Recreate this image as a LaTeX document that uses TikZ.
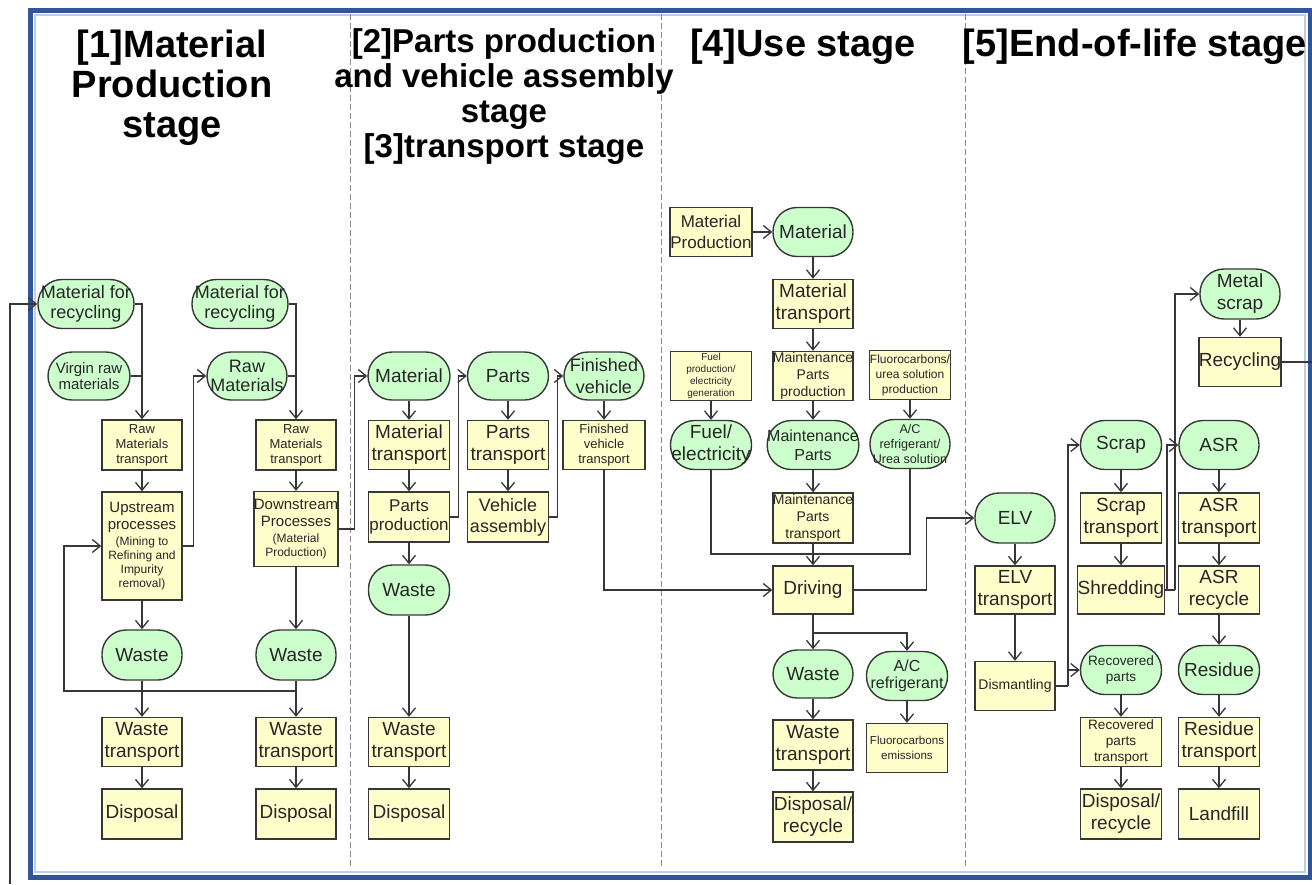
\documentclass[tikz,border=0pt]{standalone}
\usepackage{fontspec}
\setmainfont{Liberation Sans}
\usetikzlibrary{arrows.meta}
\definecolor{gfill}{RGB}{204,255,204}
\definecolor{yfill}{RGB}{255,255,204}
\definecolor{edgec}{RGB}{55,55,55}
\definecolor{frameblue}{RGB}{50,85,150}
\definecolor{framelight}{RGB}{190,205,230}
\definecolor{dashgray}{RGB}{140,140,140}
\newcommand\fsz[2]{\fontsize{#1}{#2}\selectfont}
\begin{document}
\begin{tikzpicture}[x=0.5pt,y=-0.5pt,
 base/.style={draw=edgec, line width=0.7pt, text=black!85, align=center, inner sep=0pt,
   minimum width=40pt, minimum height=24.5pt, font=\fsz{9.5}{11}},
 gn/.style={base, fill=gfill, rounded corners=12pt},
 yb/.style={base, fill=yfill},
 arr/.style={draw=edgec, line width=0.65pt, -{Straight Barb[length=4pt,width=6.5pt]}},
 ln/.style={draw=edgec, line width=0.65pt},
 title/.style={font=\bfseries\fsz{19}{20}, align=center, inner sep=0pt, text=black},
 small/.style={font=\fsz{6.5}{7.5}},
]
\useasboundingbox (0,0) rectangle (1312,884);
% frame
\draw[framelight, line width=1pt] (35,15) rectangle (1305,872);
\draw[frameblue, line width=2.5pt] (30,10) rectangle (1310,877);
% dashed separators
\foreach \xx in {350,661,965}
  \draw[dashgray, line width=0.5pt, dash pattern=on 3pt off 1.5pt] (\xx,14) -- (\xx,868);
% titles
\node[title] (t1) at (172,88) {[1]Material\\Production\\stage};
\node[title, font=\bfseries\fsz{16.5}{17.5}] (t2) at (504,97) {[2]Parts production\\and vehicle assembly\\stage\\{}[3]transport stage};
\node[title] (t4) at (803,47) {[4]Use stage};
\node[title] (t5) at (1135,47) {[5]End-of-life stage};

% ---------- column 1
\node[gn, minimum width=48pt, font=\fsz{9}{10}] (A) at (86,304) {Material for\\recycling};
\node[gn, minimum width=41pt, minimum height=24pt, font=\fsz{7.5}{8}] (B) at (89,376) {Virgin raw\\materials};
\node[gn, minimum width=48pt, font=\fsz{9}{10}] (C) at (240,304) {Material for\\recycling};
\node[gn, minimum height=24pt, font=\fsz{9}{9.5}] (D) at (247,376) {Raw\\Materials};
\node[yb, minimum height=25pt, small] (E) at (142,445) {Raw\\Materials\\transport};
\node[yb, minimum height=25pt, small] (F) at (296,445) {Raw\\Materials\\transport};
\node[yb, minimum height=54pt, font=\fsz{6}{7}] (G) at (142,546) {{\fsz{7.5}{8.5}Upstream}\\[1.5pt]{\fsz{7.5}{8.5}processes}\\[1pt](Mining to\\Refining and\\Impurity\\removal)};
\node[yb, minimum height=37.5pt, font=\fsz{6}{7}] (H) at (296,529) {{\fsz{7.5}{8.5}Downstream}\\[1.5pt]{\fsz{7.5}{8.5}Processes}\\[1pt](Material\\Production)};
\node[gn, minimum height=25pt] (I) at (142,655) {Waste};
\node[gn, minimum height=25pt] (J) at (296,655) {Waste};
\node[yb] (K) at (142,742) {Waste\\transport};
\node[yb] (L) at (296,742) {Waste\\transport};
\node[yb, minimum height=25pt] (M) at (142,814) {Disposal};
\node[yb, minimum height=25pt] (N) at (296,814) {Disposal};

% ---------- column 2
\node[gn, minimum width=41pt, minimum height=24pt] (Mat2) at (409,376) {Material};
\node[gn, minimum width=40.5pt, minimum height=24pt] (Parts) at (508,376) {Parts};
\node[gn, minimum height=24pt, font=\fsz{9}{11}] (FV) at (604,376) {Finished\\vehicle};
\node[yb, minimum width=40.5pt] (MatT2) at (409,445) {Material\\transport};
\node[yb, minimum width=40.5pt] (PartsT) at (508,445) {Parts\\transport};
\node[yb, minimum width=41pt, small] (FVT) at (604,445) {Finished\\vehicle\\transport};
\node[yb, minimum width=40.5pt, minimum height=25pt, font=\fsz{8.5}{9.5}] (PP) at (409,517) {Parts\\production};
\node[yb, minimum width=40.5pt, minimum height=25pt, font=\fsz{9}{10.5}] (VA) at (508,517) {Vehicle\\assembly};
\node[gn, minimum width=40.5pt, minimum height=25pt] (W2) at (409,590) {Waste};
\node[yb, minimum width=40.5pt] (WT2) at (409,742) {Waste\\transport};
\node[yb, minimum width=40.5pt, minimum height=25pt] (D2) at (409,814) {Disposal};

% ---------- column 4
\node[yb, minimum width=41pt, font=\fsz{8.5}{10.5}] (MP4) at (711,232) {Material\\Production};
\node[gn] (M4) at (813,232) {Material};
\node[yb] (MT4) at (813,304) {Material\\transport};
\node[yb, font=\fsz{7}{8.5}] (MPP) at (813,376) {Maintenance\\Parts\\production};
\node[yb, minimum width=40.5pt, font=\fsz{5}{6}] (FP) at (711,376) {Fuel\\production/\\electricity\\generation};
\node[yb, minimum width=40.5pt, font=\fsz{6}{7.5}] (FCP) at (910,375) {Fluorocarbons/\\urea solution\\production};
\node[gn, minimum width=40.5pt, font=\fsz{9.5}{11}] (FE) at (711,445) {Fuel/\\electricity};
\node[gn, font=\fsz{8}{9.5}] (MPG) at (813,445) {Maintenance\\Parts};
\node[gn, font=\fsz{6.3}{7.5}] (ACU) at (910,444) {A/C\\refrigerant/\\Urea solution};
\node[yb, minimum height=25pt, font=\fsz{7}{8.5}] (MPT) at (813,518) {Maintenance\\Parts\\transport};
\node[yb, minimum height=24pt] (DRV) at (813,590) {Driving};
\node[gn, minimum height=24pt] (W4) at (813,674) {Waste};
\node[gn, minimum width=40.5pt, font=\fsz{8}{8.5}] (AC2) at (907,676) {A/C\\refrigerant};
\node[yb, minimum height=25pt] (WT4) at (813,745) {Waste\\transport};
\node[yb, minimum width=40.5pt, font=\fsz{5.8}{7.5}] (FCE) at (907,748) {Fluorocarbons\\emissions};
\node[yb, minimum height=25pt] (DR4) at (813,817) {Disposal/\\recycle};

% ---------- column 5
\node[gn, minimum height=25pt] (ELV) at (1015,518) {ELV};
\node[yb, minimum height=24pt] (ELVT) at (1015,590) {ELV\\transport};
\node[yb, font=\fsz{7}{8}] (DIS) at (1015,686) {Dismantling};
\node[gn, minimum width=40.5pt] (SC) at (1121,445) {Scrap};
\node[yb, minimum width=40.5pt, minimum height=25pt] (SCT) at (1121,518) {Scrap\\transport};
\node[yb, minimum width=40.5pt, minimum height=24pt] (SHR) at (1121,590) {Shredding};
\node[gn, minimum width=40.5pt, font=\fsz{6.8}{8.2}] (RP) at (1121,670) {Recovered\\parts};
\node[yb, minimum width=40.5pt, font=\fsz{6.8}{8.2}] (RPT) at (1121,742) {Recovered\\parts\\transport};
\node[yb, minimum width=40.5pt, minimum height=25pt] (DR5) at (1121,814) {Disposal/\\recycle};
\node[gn, minimum height=25pt] (MS) at (1240,294) {Metal\\scrap};
\node[yb] (REC) at (1240,362) {Recycling};
\node[gn] (ASR) at (1219,445) {ASR};
\node[yb, minimum width=40.5pt, minimum height=25pt] (ASRT) at (1219,518) {ASR\\transport};
\node[yb, minimum width=40.5pt, minimum height=24pt] (ASRR) at (1219,590) {ASR\\recycle};
\node[gn, minimum width=40.5pt] (RES) at (1219,670) {Residue};
\node[yb, minimum width=40.5pt] (REST) at (1219,742) {Residue\\transport};
\node[yb, minimum width=40.5pt, minimum height=25pt] (LF) at (1219,814) {Landfill};

% ---------- connectors column 1
\draw[arr] (A.east) -| (E.north);
\draw[ln] (B.east) -- (B.east -| E.north);
\draw[arr] (C.east) -| (F.north);
\draw[ln] (D.east) -- (D.east -| F.north);
\draw[arr] (E.south) -- (G.north);
\draw[arr] (F.south) -- (H.north);
\draw[arr] (G.east) -- ++(11,0) |- (D.west);
\draw[arr] (H.east) -- ++(16,0) |- (Mat2.west);
\draw[arr] (G.south) -- (I.north);
\draw[arr] (H.south) -- (J.north);
\draw[arr] (I.south) -- (K.north);
\draw[arr] (J.south) -- (L.north);
\coordinate (wj) at (296,691);
\coordinate (wl) at (64,546);
\draw[arr] (wj) -| (wl) -- (G.west);
\draw[arr] (K.south) -- (M.north);
\draw[arr] (L.south) -- (N.north);
\coordinate (fb) at (10,884);
\draw[arr] (fb) |- (A.west);

% ---------- connectors column 2
\draw[arr] (Mat2.south) -- (MatT2.north);
\draw[arr] (MatT2.south) -- (PP.north);
\draw[arr] (PP.south) -- (W2.north);
\draw[arr] (W2.south) -- (WT2.north);
\draw[arr] (WT2.south) -- (D2.north);
\draw[arr] (PP.east) -- ++(8,0) |- (Parts.west);
\draw[arr] (Parts.south) -- (PartsT.north);
\draw[arr] (PartsT.south) -- (VA.north);
\draw[arr] (VA.east) -- ++(8,0) |- (FV.west);
\draw[arr] (FV.south) -- (FVT.north);
\draw[arr] (FVT.south) |- (DRV.west);

% ---------- connectors column 4
\draw[arr] (MP4.east) -- (M4.west);
\draw[arr] (M4.south) -- (MT4.north);
\draw[arr] (MT4.south) -- (MPP.north);
\draw[arr] (MPP.south) -- (MPG.north);
\draw[arr] (MPG.south) -- (MPT.north);
\draw[arr] (MPT.south) -- (DRV.north);
\draw[arr] (FP.south) -- (FE.north);
\draw[arr] (FCP.south) -- (ACU.north);
\coordinate (uj) at (813,554);
\draw[ln] (FE.south) |- (uj);
\draw[ln] (ACU.south) |- (uj);
\draw[arr] (DRV.east) -- ++(73,0) |- (ELV.west);
\coordinate (dj4) at (813,633);
\draw[ln] (DRV.south) -- (dj4);
\draw[arr] (dj4) -- (W4.north);
\draw[arr] (dj4) -| (AC2.north);
\draw[arr] (W4.south) -- (WT4.north);
\draw[arr] (WT4.south) -- (DR4.north);
\draw[arr] (AC2.south) -- (FCE.north);

% ---------- connectors column 5
\draw[arr] (ELV.south) -- (ELVT.north);
\draw[arr] (ELVT.south) -- (DIS.north);
\coordinate (dm) at (1068,686);
\draw[ln] (DIS.east) -- (dm);
\draw[arr] (dm) |- (SC.west);
\draw[arr] (dm |- RP.west) -- (RP.west);
\draw[arr] (SC.south) -- (SCT.north);
\draw[arr] (SCT.south) -- (SHR.north);
\coordinate (sh1) at (1167,590);
\coordinate (sh2) at (1175,590);
\draw[ln] (SHR.east) -- (sh2);
\draw[arr] (sh1) |- (ASR.west);
\draw[arr] (sh2) |- (MS.west);
\draw[arr] (MS.south) -- (REC.north);
\coordinate (rc) at (1312,362);
\draw[ln] (REC.east) -- (rc);
\draw[arr] (ASR.south) -- (ASRT.north);
\draw[arr] (ASRT.south) -- (ASRR.north);
\draw[arr] (ASRR.south) -- (RES.north);
\draw[arr] (RES.south) -- (REST.north);
\draw[arr] (REST.south) -- (LF.north);
\draw[arr] (RP.south) -- (RPT.north);
\draw[arr] (RPT.south) -- (DR5.north);
\end{tikzpicture}
\end{document}
